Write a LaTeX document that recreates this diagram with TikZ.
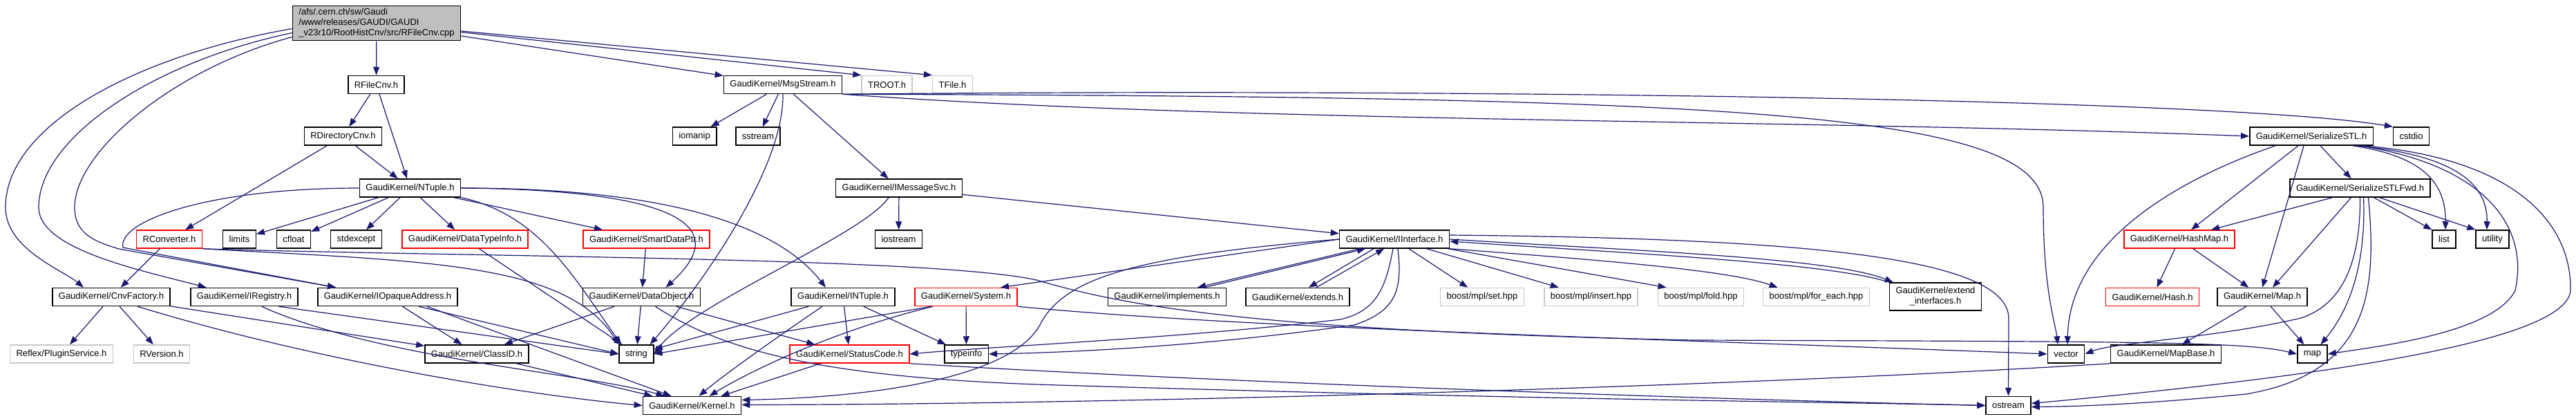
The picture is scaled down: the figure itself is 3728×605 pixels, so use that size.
\documentclass[tikz,border=0pt]{standalone}
\usepackage{fontspec}
\setmainfont{Liberation Sans}
\usetikzlibrary{arrows.meta}
\definecolor{midnightblue}{HTML}{191970}
\definecolor{rootgray}{HTML}{BFBFBF}
\definecolor{extgray}{HTML}{C8C8C8}

\begin{document}
\begin{tikzpicture}[x=1pt, y=-1pt,
    file/.style={draw=black, line width=1.5pt, fill=white, inner xsep=9pt, inner ysep=0pt, minimum height=26pt, font=\fontsize{13}{15}\selectfont},
    trunc/.style={file, draw=red},
    extern/.style={file, draw=extgray},
    edge/.style={draw=midnightblue, line width=1.2pt, -{Triangle[length=12pt,width=9pt]}}]
        \useasboundingbox (0,0) rectangle (3728,605);
        \node[file, fill=rootgray, align=left, inner ysep=4pt] (root) at (545,33.5) {/afs/.cern.ch/sw/Gaudi\\/www/releases/GAUDI/GAUDI\\\_v23r10/RootHistCnv/src/RFileCnv.cpp};
        \node[file] (rfilecnv) at (544.5,122.5) {RFileCnv.h};
        \node[file] (msgstream) at (1133,122.5) {GaudiKernel/MsgStream.h};
        \node[extern] (troot) at (1283.5,122.5) {TROOT.h};
        \node[extern] (tfile) at (1378.5,122.5) {TFile.h};
        \node[file] (rdircnv) at (496.5,197) {RDirectoryCnv.h};
        \node[file] (iomanip) at (1005,197) {iomanip};
        \node[file] (sstream) at (1097,197) {sstream};
        \node[file] (serstl) at (3345,197) {GaudiKernel/SerializeSTL.h};
        \node[file] (cstdio) at (3489.5,197) {cstdio};
        \node[file] (ntuple) at (593.5,272) {GaudiKernel/NTuple.h};
        \node[file] (imsgsvc) at (1301,272) {GaudiKernel/IMessageSvc.h};
        \node[file] (serstlfwd) at (3415.5,272) {GaudiKernel/SerializeSTLFwd.h};
        \node[trunc] (rconverter) at (245,346) {RConverter.h};
        \node[file] (limits) at (346.5,346) {limits};
        \node[file] (cfloat) at (425,346) {cfloat};
        \node[file] (stdexcept) at (515.5,346) {stdexcept};
        \node[trunc] (datatypeinfo) at (673,346) {GaudiKernel/DataTypeInfo.h};
        \node[trunc] (smartdataptr) at (935.5,346) {GaudiKernel/SmartDataPtr.h};
        \node[file] (iostream) at (1300.5,346) {iostream};
        \node[file] (iinterface) at (2018,346) {GaudiKernel/IInterface.h};
        \node[trunc] (hashmap) at (3154,346) {GaudiKernel/HashMap.h};
        \node[file] (list) at (3537,346) {list};
        \node[file] (utility) at (3607,346) {utility};
        \node[file] (cnvfactory) at (161,429.5) {GaudiKernel/CnvFactory.h};
        \node[file] (iregistry) at (353.5,429.5) {GaudiKernel/IRegistry.h};
        \node[file] (iopaque) at (561,429.5) {GaudiKernel/IOpaqueAddress.h};
        \node[file] (dataobject) at (928.5,429.5) {GaudiKernel/DataObject.h};
        \node[file] (intuple) at (1220,429.5) {GaudiKernel/INTuple.h};
        \node[trunc] (system) at (1398,429.5) {GaudiKernel/System.h};
        \node[file] (implements) at (1689,429.5) {GaudiKernel/implements.h};
        \node[file] (extends) at (1878,429.5) {GaudiKernel/extends.h};
        \node[extern] (mplset) at (2145,429.5) {boost/mpl/set.hpp};
        \node[extern] (mplinsert) at (2302.5,429.5) {boost/mpl/insert.hpp};
        \node[extern] (mplfold) at (2461.5,429.5) {boost/mpl/fold.hpp};
        \node[extern] (mplforeach) at (2628.5,429.5) {boost/mpl/for\_each.hpp};
        \node[file, align=center, minimum height=40pt] (extendif) at (2801,429) {GaudiKernel/extend\\\_interfaces.h};
        \node[trunc] (hash) at (3115,429.5) {GaudiKernel/Hash.h};
        \node[file] (maph) at (3274,429.5) {GaudiKernel/Map.h};
        \node[extern] (plugin) at (89,512) {Reflex/PluginService.h};
        \node[extern] (rversion) at (234,512) {RVersion.h};
        \node[file] (classid) at (690,512) {GaudiKernel/ClassID.h};
        \node[file] (string) at (921,512) {string};
        \node[trunc] (statuscode) at (1229.5,512) {GaudiKernel/StatusCode.h};
        \node[file] (typeinfo) at (1398.5,512) {typeinfo};
        \node[file] (vector) at (2990,512) {vector};
        \node[file] (mapbase) at (3134.5,512) {GaudiKernel/MapBase.h};
        \node[file] (map) at (3346.5,512) {map};
        \node[file] (kernel) at (1001.5,586.5) {GaudiKernel/Kernel.h};
        \node[file] (ostream) at (2906.5,586.5) {ostream};
        \draw[edge] (root) -- (rfilecnv);
        \draw[edge] (root) -- (msgstream);
        \draw[edge] (root) -- (troot.north west);
        \draw[edge] (root) -- (tfile.north west);
        \draw[edge] ([yshift=-8pt]root.west) .. controls (200,80) and (8,180) .. (8,300) .. controls (8,360) and (90,390) .. ([xshift=-40pt]cnvfactory.north);
        \draw[edge] ([yshift=-14pt]root.west) .. controls (220,90) and (56,200) .. (56,300) .. controls (56,360) and (200,390) .. ([xshift=-55pt]iregistry.north);
        \draw[edge] ([yshift=-20pt]root.west) .. controls (250,100) and (108,220) .. (108,300) .. controls (108,340) and (140,350) .. (172,360) -- ([xshift=-75pt]iopaque.north);
        \draw[edge] (rfilecnv) -- (rdircnv);
        \draw[edge] (rfilecnv) -- (ntuple);
        \draw[edge] (rdircnv) -- (ntuple);
        \draw[edge] (rdircnv) -- (rconverter);
        \draw[edge] (msgstream) -- (iomanip);
        \draw[edge] (msgstream) -- (sstream);
        \draw[edge] (msgstream) -- (imsgsvc);
        \draw[edge] (msgstream.south) .. controls (1135,250) and (1000,430) .. ([xshift=-6pt]string.north east);
        \draw[edge] (msgstream.south east) .. controls (2000,128) and (3200,140) .. (cstdio.north west);
        \draw[edge] (msgstream.south east) .. controls (2500,140) and (2957,160) .. (2957,300) .. controls (2957,420) and (2975,470) .. ([xshift=-12pt]vector.north);
        \draw[edge] (msgstream.south east) .. controls (1800,178) and (2600,172) .. (serstl.west);
        \draw[edge] (imsgsvc) -- (iostream);
        \draw[edge] (imsgsvc) -- (iinterface);
        \draw[edge] ([xshift=-15pt]imsgsvc.south) .. controls (1250,340) and (1000,440) .. (string.east);
        \draw[edge] (ntuple) -- (limits);
        \draw[edge] (ntuple) -- (cfloat);
        \draw[edge] (ntuple) -- (stdexcept);
        \draw[edge] (ntuple) -- (datatypeinfo);
        \draw[edge] (ntuple) -- (smartdataptr);
        \draw[edge] (ntuple.east) .. controls (920,274) and (1080,310) .. ([xshift=35pt]dataobject.north);
        \draw[edge] (ntuple.east) .. controls (950,272) and (1120,320) .. ([xshift=-25pt]intuple.north);
        \draw[edge] (ntuple.south east) .. controls (780,310) and (830,400) .. ([xshift=-22pt]string.north);
        \draw[edge] (ntuple.west) .. controls (300,272) and (170,320) .. (178,358) -- ([xshift=-75pt]iopaque.north);
        \draw[edge] (rconverter) -- (cnvfactory);
        \draw[edge] (rconverter.south east) .. controls (620,378) and (820,380) .. (string.north west);
        \draw[edge] (rconverter.south east) .. controls (700,372) and (1350,372) .. (1500,405) .. controls (1620,440) and (1800,478) .. (2450,492) .. controls (3100,494) and (3250,494) .. (map.west);
        \draw[edge] (datatypeinfo) -- (string);
        \draw[edge] (smartdataptr) -- (dataobject);
        \draw[edge] (cnvfactory) -- (plugin);
        \draw[edge] (cnvfactory) -- (rversion);
        \draw[edge] (cnvfactory) -- (classid);
        \draw[edge] ([xshift=38pt]cnvfactory.south) .. controls (450,520) and (750,570) .. (kernel.west);
        \draw[edge] ([xshift=25pt]iregistry.south) .. controls (550,520) and (850,540) .. ([xshift=-40pt]kernel.north);
        \draw[edge] ([xshift=50pt]iregistry.south) -- (string.west);
        \draw[edge] (iopaque) -- (classid);
        \draw[edge] ([xshift=45pt]iopaque.south) -- (string.west);
        \draw[edge] ([xshift=57pt]iopaque.south) -- ([xshift=-30pt]kernel.north);
        \draw[edge] (dataobject) -- (classid);
        \draw[edge] (dataobject) -- (string);
        \draw[edge] (dataobject) -- (statuscode);
        \draw[edge] ([xshift=20pt]dataobject.south) .. controls (1050,510) and (1200,545) .. (1500,556) .. controls (2200,578) and (2700,582) .. (ostream.west);
        \draw[edge] (intuple) -- (string);
        \draw[edge] ([xshift=-30pt]intuple.south) .. controls (1150,470) and (1050,540) .. ([xshift=10pt]kernel.north);
        \draw[edge] (intuple) -- (statuscode);
        \draw[edge] (intuple) -- (typeinfo);
        \draw[edge] (system) -- (typeinfo);
        \draw[edge] ([xshift=-50pt]system.south) -- (string.east);
        \draw[edge] ([xshift=-48pt]system.south) .. controls (1200,480) and (1080,540) .. ([xshift=25pt]kernel.north);
        \draw[edge] (system.south east) .. controls (1800,475) and (2400,490) .. (vector.west);
        \draw[edge] (statuscode) -- ([xshift=42pt]kernel.north);
        \draw[edge] (statuscode.south east) .. controls (1800,555) and (2500,578) .. (ostream.west);
        \draw[edge] (classid) -- (kernel);
        \draw[edge] (iinterface.west) -- ([xshift=50pt]system.north);
        \draw[edge] ([xshift=-50pt]iinterface.south) -- ([xshift=44pt]implements.north);
        \draw[edge] ([xshift=54pt]implements.north) -- ([xshift=-42pt]iinterface.south);
        \draw[edge] ([xshift=-30pt]iinterface.south) -- ([xshift=16pt]extends.north);
        \draw[edge] ([xshift=27pt]extends.north) -- ([xshift=-15pt]iinterface.south);
        \draw[edge] (iinterface) -- (mplset);
        \draw[edge] (iinterface) -- (mplinsert);
        \draw[edge] (iinterface) -- ([xshift=-50pt]mplfold.north);
        \draw[edge] (iinterface.south east) .. controls (2300,375) and (2500,390) .. ([xshift=-56pt]mplforeach.north);
        \draw[edge] (iinterface.east) .. controls (2350,362) and (2650,372) .. ([xshift=6pt]extendif.north west);
        \draw[edge] (extendif.north west) .. controls (2650,380) and (2350,366) .. ([yshift=-3pt]iinterface.east);
        \draw[edge] ([yshift=6pt]iinterface.east) .. controls (2600,345) and (2905,370) .. (2907,460) -- (ostream.north);
        \draw[edge] (iinterface.west) .. controls (1650,370) and (1540,400) .. (1505,470) .. controls (1460,550) and (1250,575) .. ([yshift=8pt]kernel.east);
        \draw[edge] ([xshift=-2pt]iinterface.south) .. controls (2005,420) and (1990,450) .. (1940,462) .. controls (1700,490) and (1450,500) .. (statuscode.east);
        \draw[edge] ([xshift=5pt]iinterface.south) .. controls (2030,420) and (2020,450) .. (1960,470) .. controls (1750,500) and (1550,510) .. (typeinfo.east);
        \draw[edge] (hashmap) -- (hash);
        \draw[edge] (hashmap) -- (maph);
        \draw[edge] (maph) -- (mapbase);
        \draw[edge] (maph) -- (map);
        \draw[edge] (mapbase.south west) .. controls (2500,560) and (1600,585) .. ([yshift=1pt]kernel.east);
        \draw[edge] (serstl) -- (serstlfwd);
        \draw[edge] ([xshift=-52pt]serstl.south) .. controls (3150,260) and (2995,350) .. ([xshift=2pt]vector.north);
        \draw[edge] ([xshift=-19pt]serstl.south) -- ([xshift=17pt]hashmap.north);
        \draw[edge] ([xshift=-11pt]serstl.south) -- (maph.north);
        \draw[edge] ([xshift=60pt]serstl.south) .. controls (3500,225) and (3540,260) .. ([xshift=2pt]list.north);
        \draw[edge] ([xshift=65pt]serstl.south) .. controls (3560,225) and (3600,270) .. ([xshift=-8pt]utility.north);
        \draw[edge] ([xshift=70pt]serstl.south) .. controls (3600,240) and (3660,330) .. (3640,420) .. controls (3610,480) and (3450,500) .. (map.east);
        \draw[edge] ([xshift=75pt]serstl.south) .. controls (3650,230) and (3722,330) .. (3720,420) .. controls (3715,500) and (3300,550) .. ([yshift=3pt]ostream.east);
        \draw[edge] ([xshift=-40pt]serstlfwd.south) -- ([xshift=46pt]hashmap.north);
        \draw[edge] ([xshift=-13pt]serstlfwd.south) -- ([xshift=15pt]maph.north);
        \draw[edge] (serstlfwd.south) .. controls (3416,380) and (3390,440) .. (3330,460) .. controls (3200,490) and (3060,495) .. (vector.east);
        \draw[edge] ([xshift=5pt]serstlfwd.south) .. controls (3425,400) and (3390,460) .. ([xshift=12pt]map.north);
        \draw[edge] ([xshift=12pt]serstlfwd.south) .. controls (3440,420) and (3430,540) .. (3250,570) .. controls (3100,585) and (3000,588) .. ([yshift=-2pt]ostream.east);
        \draw[edge] ([xshift=20pt]serstlfwd.south) -- (list.north west);
        \draw[edge] ([xshift=28pt]serstlfwd.south) -- (utility.north west);
      \end{tikzpicture}
\end{document}
